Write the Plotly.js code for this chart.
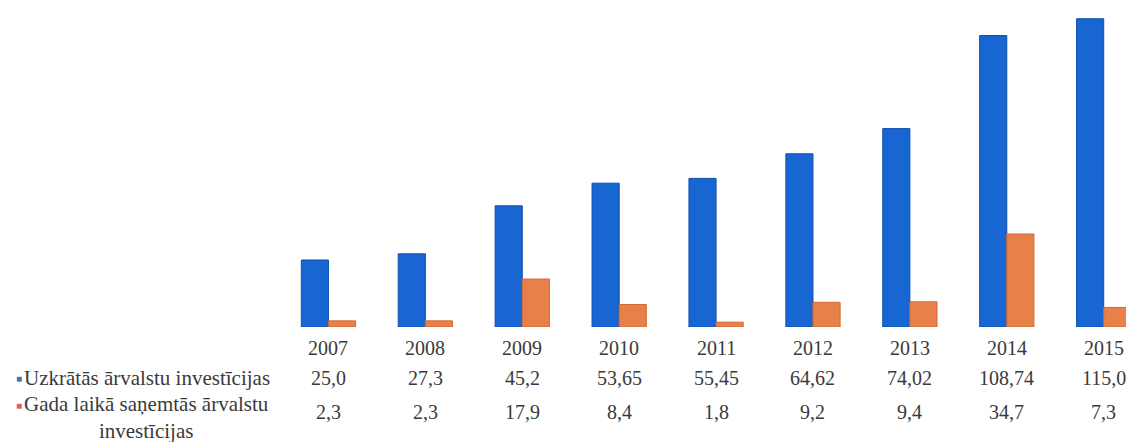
<!DOCTYPE html>
<html>
<head>
<meta charset="utf-8">
<script src="https://cdn.plot.ly/plotly-3.0.1.min.js"></script>
<style>html,body{margin:0;padding:0;background:#fff;}#chart{width:1126px;height:442px;}</style>
</head>
<body>
<div id="chart"></div>
<script>
const years = ['2007', '2008', '2009', '2010', '2011', '2012', '2013', '2014', '2015'];
const accumulated = [25.0, 27.3, 45.2, 53.65, 55.45, 64.62, 74.02, 108.74, 115.0];
const annual = [2.3, 2.3, 17.9, 8.4, 1.8, 9.2, 9.4, 34.7, 7.3];
const seriesNames = ['Uzkrātās ārvalstu investīcijas', 'Gada laikā saņemtās ārvalstu<br>investīcijas'];
const seriesColors = ['#1766d2', '#e8804a'];
const markerColors = ['#3a78b8', '#d8606e'];

function fmt(v) {
  const dec = (v.toString().split('.')[1] || '').length;
  return v.toFixed(Math.max(1, dec)).replace('.', ',');
}

const font = {family: '"Liberation Serif", "DejaVu Serif", serif', size: 20, color: '#3a3a3a'};
const legFont = {family: '"Liberation Serif", "DejaVu Serif", serif', size: 21, color: '#3a3a3a'};

const traces = [
  {type: 'bar', x: years, y: accumulated, name: seriesNames[0],
   marker: {color: seriesColors[0], line: {color: '#0f4fb0', width: 1}}, hoverinfo: 'x+y'},
  {type: 'bar', x: years, y: annual, name: seriesNames[1],
   marker: {color: seriesColors[1], line: {color: '#d06a35', width: 1}}, hoverinfo: 'x+y'}
];

const annotations = [];
years.forEach((yr, i) => {
  annotations.push({xref: 'x', yref: 'paper', x: i, y: 0, yanchor: 'middle', yshift: -21,
    text: yr, showarrow: false, font: font});
  annotations.push({xref: 'x', yref: 'paper', x: i, y: 0, yanchor: 'middle', yshift: -51,
    text: fmt(accumulated[i]), showarrow: false, font: font});
  annotations.push({xref: 'x', yref: 'paper', x: i, y: 0, yanchor: 'middle', yshift: -85,
    text: fmt(annual[i]), showarrow: false, font: font});
});
// row headers (legend)
annotations.push({xref: 'paper', yref: 'paper', x: 0, y: 0, xanchor: 'left', yanchor: 'middle',
  xshift: -266, yshift: -51, text: '■', showarrow: false, font: {size: 10, color: markerColors[0]}});
annotations.push({xref: 'paper', yref: 'paper', x: 0, y: 0, xanchor: 'left', yanchor: 'middle',
  xshift: -258, yshift: -51, text: seriesNames[0], showarrow: false, font: legFont});
annotations.push({xref: 'paper', yref: 'paper', x: 0, y: 0, xanchor: 'left', yanchor: 'middle',
  xshift: -266, yshift: -78, text: '■', showarrow: false, font: {size: 10, color: markerColors[1]}});
annotations.push({xref: 'paper', yref: 'paper', x: 0, y: 0, xanchor: 'left', yanchor: 'top',
  xshift: -258, yshift: -63, text: seriesNames[1], align: 'center', showarrow: false, font: legFont});

const layout = {
  width: 1126, height: 442,
  margin: {l: 280, r: 0, t: 0, b: 115, pad: 0},
  paper_bgcolor: '#ffffff', plot_bgcolor: '#ffffff',
  showlegend: false,
  barmode: 'group', bargap: 0.44, bargroupgap: 0,
  xaxis: {type: 'category', range: [-0.5, 8.23], showticklabels: false, ticks: '',
          showgrid: false, zeroline: false, showline: false, fixedrange: true},
  yaxis: {range: [0, 122], visible: false, showgrid: false, zeroline: false, fixedrange: true},
  annotations: annotations
};

Plotly.newPlot('chart', traces, layout, {displayModeBar: false, staticPlot: true});
</script>
</body>
</html>
